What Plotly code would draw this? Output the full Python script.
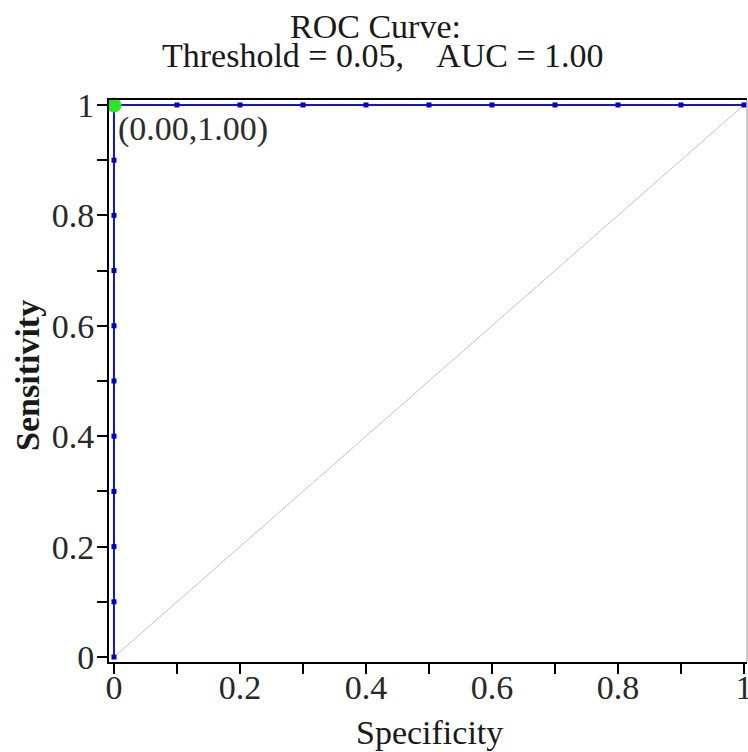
import plotly.graph_objects as go

# ROC curve points (specificity axis, sensitivity axis)
spec = [0, 0, 0, 0, 0, 0, 0, 0, 0, 0, 0, 0.1, 0.2, 0.3, 0.4, 0.5, 0.6, 0.7, 0.8, 0.9, 1.0]
sens = [0, 0.1, 0.2, 0.3, 0.4, 0.5, 0.6, 0.7, 0.8, 0.9, 1.0, 1, 1, 1, 1, 1, 1, 1, 1, 1, 1]
diag_x = [0, 1]
diag_y = [0, 1]
best_x = [0.0]
best_y = [1.0]
tick_vals = [0, 0.2, 0.4, 0.6, 0.8, 1]
tick_text = ["0", "0.2", "0.4", "0.6", "0.8", "1"]
title_line1 = "ROC Curve:"
title_line2 = "Threshold = 0.05,\u00a0\u00a0\u00a0 AUC = 1.00"

FONT = "Liberation Serif, Times New Roman, serif"
TXT = "rgb(25,25,25)"
BLUE = "rgb(20,20,200)"
FS = 34

fig = go.Figure()
fig.add_trace(go.Scatter(x=diag_x, y=diag_y, mode="lines",
                         line=dict(color="rgb(195,195,195)", width=1),
                         hoverinfo="skip", showlegend=False))
fig.add_trace(go.Scatter(x=spec, y=sens, mode="lines+markers",
                         line=dict(color=BLUE, width=2),
                         marker=dict(symbol="square", size=5, color="rgb(0,0,190)"),
                         showlegend=False))
fig.add_trace(go.Scatter(x=best_x, y=best_y, mode="markers",
                         marker=dict(symbol="circle", size=15, color="rgb(40,230,40)"),
                         showlegend=False, cliponaxis=False))

fig.add_annotation(x=best_x[0], y=best_y[0], xref="x", yref="y",
                   text="(%.2f,%.2f)" % (best_x[0], best_y[0]),
                   showarrow=False, xanchor="left", yanchor="middle",
                   xshift=2, yshift=-24,
                   font=dict(family=FONT, size=FS, color="rgb(45,45,45)"))

# titles
fig.add_annotation(text=title_line1, xref="paper", yref="paper", x=0.417, y=1.1299,
                   xanchor="center", yanchor="middle", showarrow=False,
                   font=dict(family=FONT, size=FS, color=TXT))
fig.add_annotation(text=title_line2, xref="paper", yref="paper", x=0.4295, y=1.0783,
                   xanchor="center", yanchor="middle", showarrow=False,
                   font=dict(family=FONT, size=FS, color=TXT))
fig.add_annotation(text="<b>Sensitivity</b>", xref="paper", yref="paper", x=-0.127, y=0.5107,
                   xanchor="center", yanchor="middle", showarrow=False, textangle=-90,
                   font=dict(family=FONT, size=FS, color=TXT))
fig.add_annotation(text="Specificity", xref="paper", yref="paper", x=0.5016, y=-0.1263,
                   xanchor="center", yanchor="middle", showarrow=False,
                   font=dict(family=FONT, size=FS, color=TXT))

# right frame edge (thin grey)
fig.add_shape(type="line", xref="paper", yref="paper", x0=1, x1=1, y0=0, y1=1,
              line=dict(color="rgb(150,150,150)", width=1))

axis_common = dict(
    showgrid=False, zeroline=False, showline=True, linecolor="black", linewidth=2,
    ticks="outside", ticklen=10, tickwidth=2, tickcolor="black",
    tickvals=tick_vals, ticktext=tick_text,
    tickfont=dict(family=FONT, size=FS, color="rgb(40,40,40)"),
    ticklabeloverflow="allow", automargin=False,
    minor=dict(dtick=0.1, tick0=0, ticks="outside", ticklen=10, tickwidth=2, tickcolor="black"),
)

fig.update_layout(
    width=748, height=752,
    paper_bgcolor="white", plot_bgcolor="white",
    margin=dict(l=109, r=1, t=100, b=90, autoexpand=False),
    font=dict(family=FONT, color=TXT),
    xaxis=dict(range=[-0.0079, 1.0048], mirror=True, ticklabelstandoff=-16, **axis_common),
    yaxis=dict(range=[-0.009, 1.009], ticklabelstandoff=-4, **axis_common),
)

fig.write_html("out.html",
               config={"displayModeBar": False},
               post_script=("document.documentElement.style.overflow='hidden';"
                            "document.body.style.margin='0';"
                            "document.body.style.overflow='hidden';"))
